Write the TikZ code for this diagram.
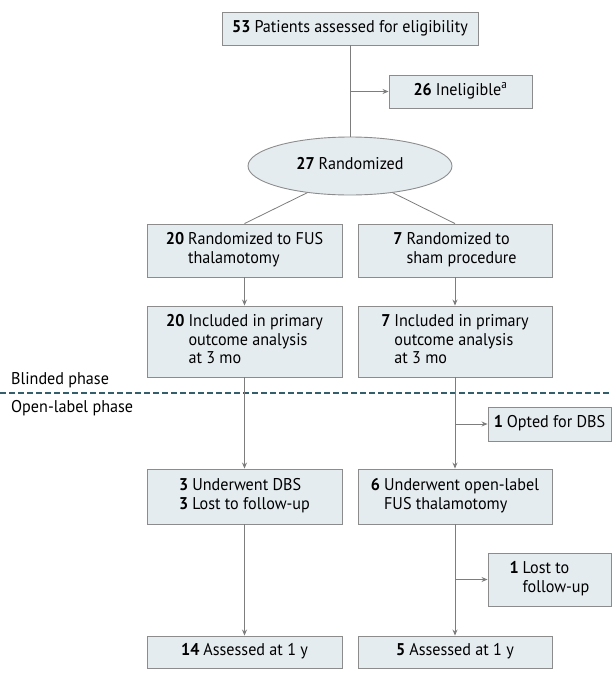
\documentclass[tikz,border=0pt]{standalone}
\usepackage{fontspec}
\setmainfont{PT Sans}[FakeStretch=0.95]
\usetikzlibrary{shapes.geometric,arrows.meta}
\definecolor{boxfill}{RGB}{229,236,240}
\definecolor{boxline}{RGB}{140,140,140}
\definecolor{flowgray}{RGB}{125,125,125}
\definecolor{phaseteal}{RGB}{52,94,108}
\newcommand{\countline}[2]{\begin{tabular}{@{}r@{\hspace{4pt}}l@{}}\textbf{#1} & #2\end{tabular}}
\begin{document}
\begin{tikzpicture}[x=1pt,y=-1pt,
        every node/.style={font=\fontsize{17}{18.5}\selectfont},
        box/.style={draw=boxline,fill=boxfill,line width=0.9pt,inner sep=2pt,align=center,minimum width=#1},
        box/.default=195pt,
        flow/.style={draw=flowgray,line width=0.9pt,-{Stealth[length=6pt,width=5pt]}},
        link/.style={draw=flowgray,line width=0.8pt},
        phase/.style={draw=phaseteal,line width=1.4pt,dash pattern=on 6pt off 3pt}
    ]
    \useasboundingbox (0,0) rectangle (612,681);

    \node[box=256pt,minimum height=33pt] (screened) at (350,28.5) {\countline{53}{Patients assessed for eligibility}};
    \node[box=143pt,minimum height=33pt] (inelig) at (460.5,91.5) {\countline{26}{Ineligible\textsuperscript{a}}};
    \node[ellipse,draw=boxline,fill=boxfill,line width=0.9pt,minimum width=204pt,minimum height=58pt,inner sep=0pt] (rand) at (350,166) {\countline{27}{Randomized}};

    \node[box,minimum height=53pt] (fus) at (244.5,250.5) {\countline{20}{Randomized to FUS\\ & thalamotomy}};
    \node[box=194pt,minimum height=53pt] (sham) at (455,250.5) {\countline{7}{Randomized to\\ & sham procedure}};

    \node[box,minimum height=71pt] (inclfus) at (244.5,341.5) {\countline{20}{Included in primary\\ & outcome analysis\\ & at 3 mo}};
    \node[box=194pt,minimum height=71pt] (inclsham) at (455,341.5) {\countline{7}{Included in primary\\ & outcome analysis\\ & at 3 mo}};

    \coordinate (phaseL) at (0,393);
    \coordinate (phaseR) at (612,393);
    \draw[phase] (phaseL) -- (phaseR);
    \node[anchor=base west,inner sep=0pt] (blinded) at (11,384) {Blinded phase};
    \node[anchor=base west,inner sep=0pt] (openlabel) at (11,412.5) {Open-label phase};

    \node[box=123pt,minimum height=34pt] (optdbs) at (549.5,424) {\countline{1}{Opted for DBS}};
    \node[box,minimum height=55pt] (dbs) at (244.5,496.5) {\begin{tabular}{@{}r@{\hspace{4pt}}l@{}}\textbf{3} & Underwent DBS\\ \textbf{3} & Lost to follow-up\end{tabular}};
    \node[box=194pt,minimum height=55pt] (openfus) at (455,496.5) {\countline{6}{Underwent open-label\\ & FUS thalamotomy}};
    \node[box=123pt,minimum height=53pt] (lost) at (549.5,579.5) {\countline{1}{Lost to\\ & follow-up}};

    \node[box,minimum height=32pt] (evalfus) at (244.5,652) {\countline{14}{Assessed at 1 y}};
    \node[box=194pt,minimum height=32pt] (evalsham) at (455,652) {\countline{5}{Assessed at 1 y}};

    \draw[link] (screened) -- (rand);
    \draw[flow] (screened.south |- inelig.west) -- (inelig.west);
    \draw[link] (rand.212) -- (fus.north);
    \draw[link] (rand.328) -- (sham.north);
    \draw[flow] (fus) -- (inclfus);
    \draw[flow] (sham) -- (inclsham);
    \draw[flow] (inclfus) -- (dbs);
    \draw[flow] (inclsham) -- (openfus);
    \draw[flow] (inclsham.south |- optdbs.west) -- (optdbs.west);
    \draw[flow] (dbs) -- (evalfus);
    \draw[flow] (openfus) -- (evalsham);
    \draw[flow] (openfus.south |- lost.west) -- (lost.west);
\end{tikzpicture}
\end{document}
